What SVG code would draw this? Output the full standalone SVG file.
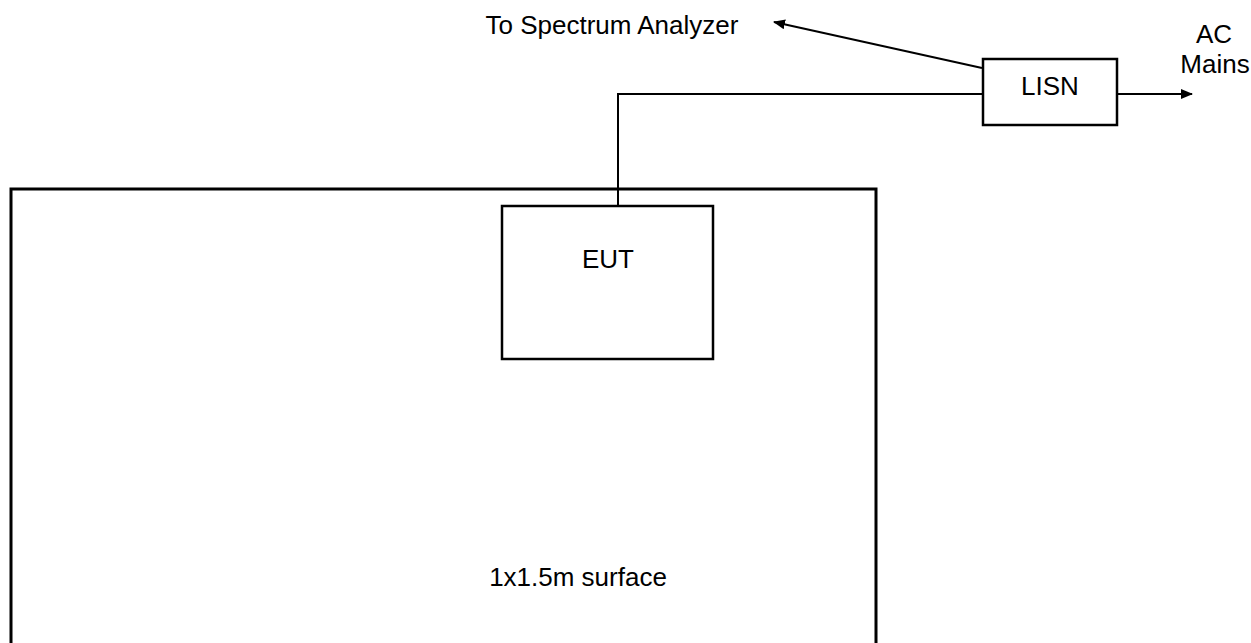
<svg xmlns="http://www.w3.org/2000/svg" width="1251" height="643" viewBox="0 0 1251 643">
<style>
text{font-family:"Liberation Sans",Arial,sans-serif;font-size:26px;fill:#000}
.box{fill:none;stroke:#000;stroke-width:2.5}
.wire{fill:none;stroke:#000;stroke-width:2}
</style>
<defs>
<marker id="ah" markerWidth="12" markerHeight="10" refX="11" refY="5" orient="auto" markerUnits="userSpaceOnUse">
<path d="M0,0 L12,5 L0,10 Z" fill="#000"/>
</marker>
</defs>
<rect width="1251" height="643" fill="#fff"/>
<g id="surface">
<path d="M11,660 L11,189 L876,189 L876,660" fill="none" stroke="#000" stroke-width="3"/>
<text x="578" y="586" text-anchor="middle">1x1.5m surface</text>
</g>
<g id="connectors">
<polyline class="wire" points="618,206 618,94 983,94"/>
<line class="wire" x1="982" y1="68" x2="774" y2="22" marker-end="url(#ah)"/>
<line class="wire" x1="1117" y1="94" x2="1192" y2="94" marker-end="url(#ah)"/>
</g>
<g id="eut">
<rect class="box" x="502" y="206" width="211" height="153"/>
<text x="608" y="268" text-anchor="middle">EUT</text>
</g>
<g id="lisn">
<rect class="box" x="983" y="59" width="134" height="66"/>
<text x="1050" y="95" text-anchor="middle">LISN</text>
</g>
<g id="labels">
<text x="612" y="34" text-anchor="middle">To Spectrum Analyzer</text>
<text x="1214" y="43" text-anchor="middle">AC</text>
<text x="1215" y="73" text-anchor="middle">Mains</text>
</g>
</svg>
